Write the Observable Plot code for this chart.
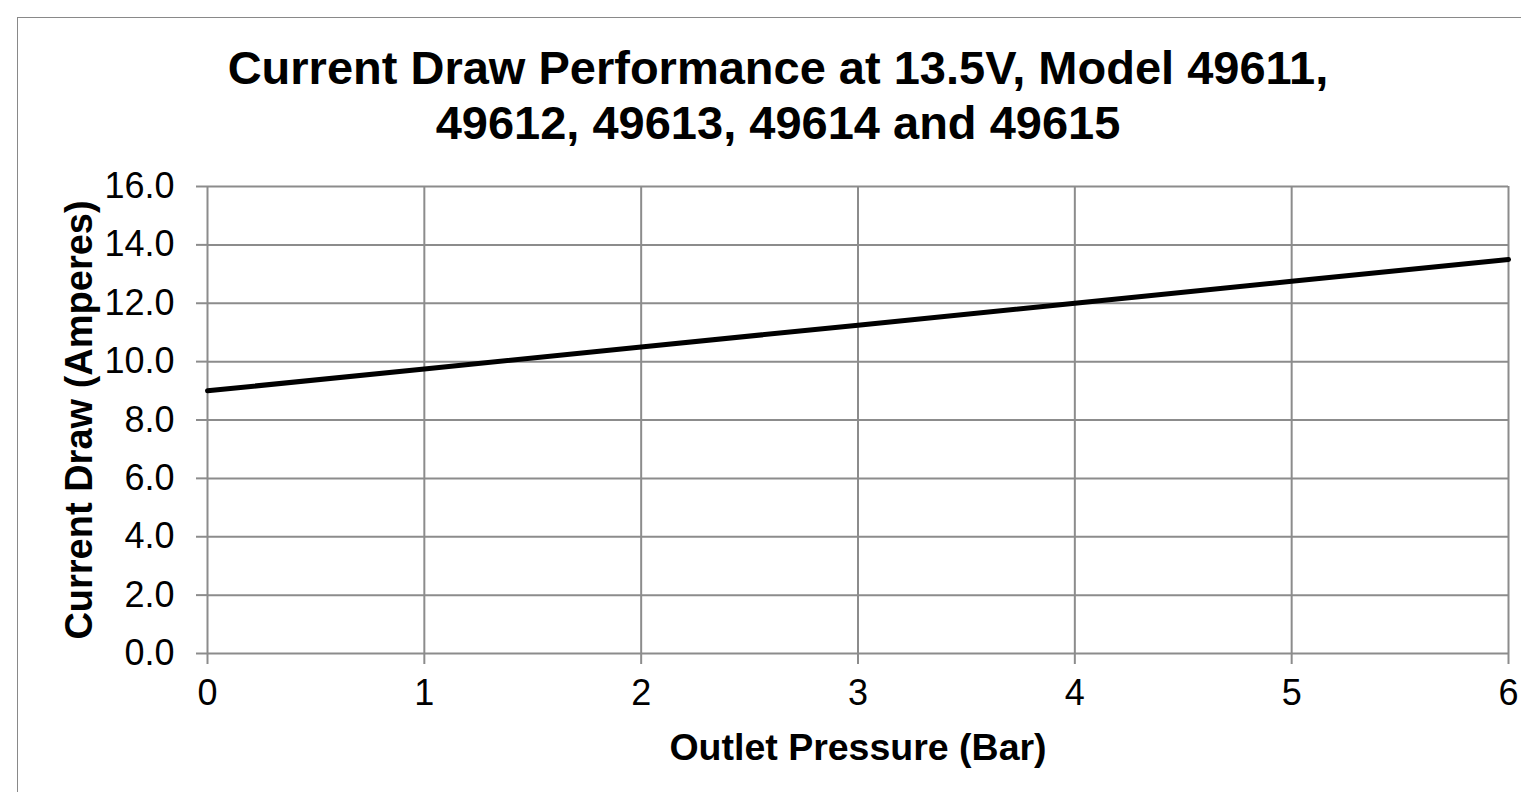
<!DOCTYPE html>
<html>
<head>
<meta charset="utf-8">
<script src="https://cdn.jsdelivr.net/npm/d3@7"></script>
<script src="https://cdn.jsdelivr.net/npm/@observablehq/plot@0.6"></script>
<style>
  html, body { margin: 0; padding: 0; background: #fff; overflow: hidden; }
  #wrap { position: relative; width: 1521px; height: 792px; overflow: hidden; font-family: "Liberation Sans", Arial, sans-serif; }
  #border { position: absolute; left: 17px; top: 17px; width: 1600px; height: 900px; border: 1.5px solid #898989; box-sizing: border-box; }
  #title { position: absolute; left: 0; width: 1556px; top: 40px; text-align: center; font-weight: bold; font-size: 47px; line-height: 55px; color: #000; white-space: nowrap; }
  #chart { position: absolute; left: 0; top: 150px; }
</style>
</head>
<body>
<div id="wrap">
  <div id="border"></div>
  <div id="title">Current Draw Performance at 13.5V, Model 49611,<br>49612, 49613, 49614 and 49615</div>
  <div id="chart"></div>
</div>
<script>
const pressure = [0, 1, 2, 3, 4, 5, 6];
const current = [9.0, 9.75, 10.5, 11.25, 12.0, 12.75, 13.5];
const yTicks = [0, 2, 4, 6, 8, 10, 12, 14, 16];
const xTicks = [0, 1, 2, 3, 4, 5, 6];
const xTitle = "Outlet Pressure (Bar)";
const yTitle = "Current Draw (Amperes)";

const data = pressure.map((p, i) => ({p, c: current[i]}));
const grid = "#8c8c8c";

const plot = Plot.plot({
  width: 1521,
  height: 642,
  marginTop: 36,
  marginBottom: 139,
  marginLeft: 207,
  marginRight: 13,
  style: {fontFamily: "'Liberation Sans', Arial, sans-serif", fontSize: "36px", color: "#000", background: "transparent", overflow: "visible"},
  x: {domain: [0, 6], ticks: xTicks},
  y: {domain: [0, 16], ticks: yTicks},
  marks: [
    Plot.ruleY(yTicks, {y: d => d, stroke: grid, strokeWidth: 2}),
    Plot.ruleX(xTicks, {x: d => d, stroke: grid, strokeWidth: 2}),
    Plot.axisY({ticks: yTicks, tickSize: 11, tickPadding: 22, tickFormat: d => d.toFixed(1), stroke: grid, strokeWidth: 2, strokeOpacity: 1, label: null, fontSize: 36}),
    Plot.axisX({ticks: xTicks, tickSize: 11, tickPadding: 15, tickFormat: d => String(d), stroke: grid, strokeWidth: 2, strokeOpacity: 1, label: null, fontSize: 36}),
    Plot.line(data, {x: "p", y: "c", stroke: "#000", strokeWidth: 5}),
    Plot.text([xTitle], {text: d => d, frameAnchor: "bottom", dy: 80, lineAnchor: "top", textAnchor: "middle", fontWeight: "bold", fontSize: 37.5, fill: "#000"}),
    Plot.text([yTitle], {text: d => d, frameAnchor: "left", dx: -128, rotate: -90, lineAnchor: "middle", textAnchor: "middle", fontWeight: "bold", fontSize: 38, fill: "#000"})
  ]
});
document.getElementById("chart").appendChild(plot);
</script>
</body>
</html>
